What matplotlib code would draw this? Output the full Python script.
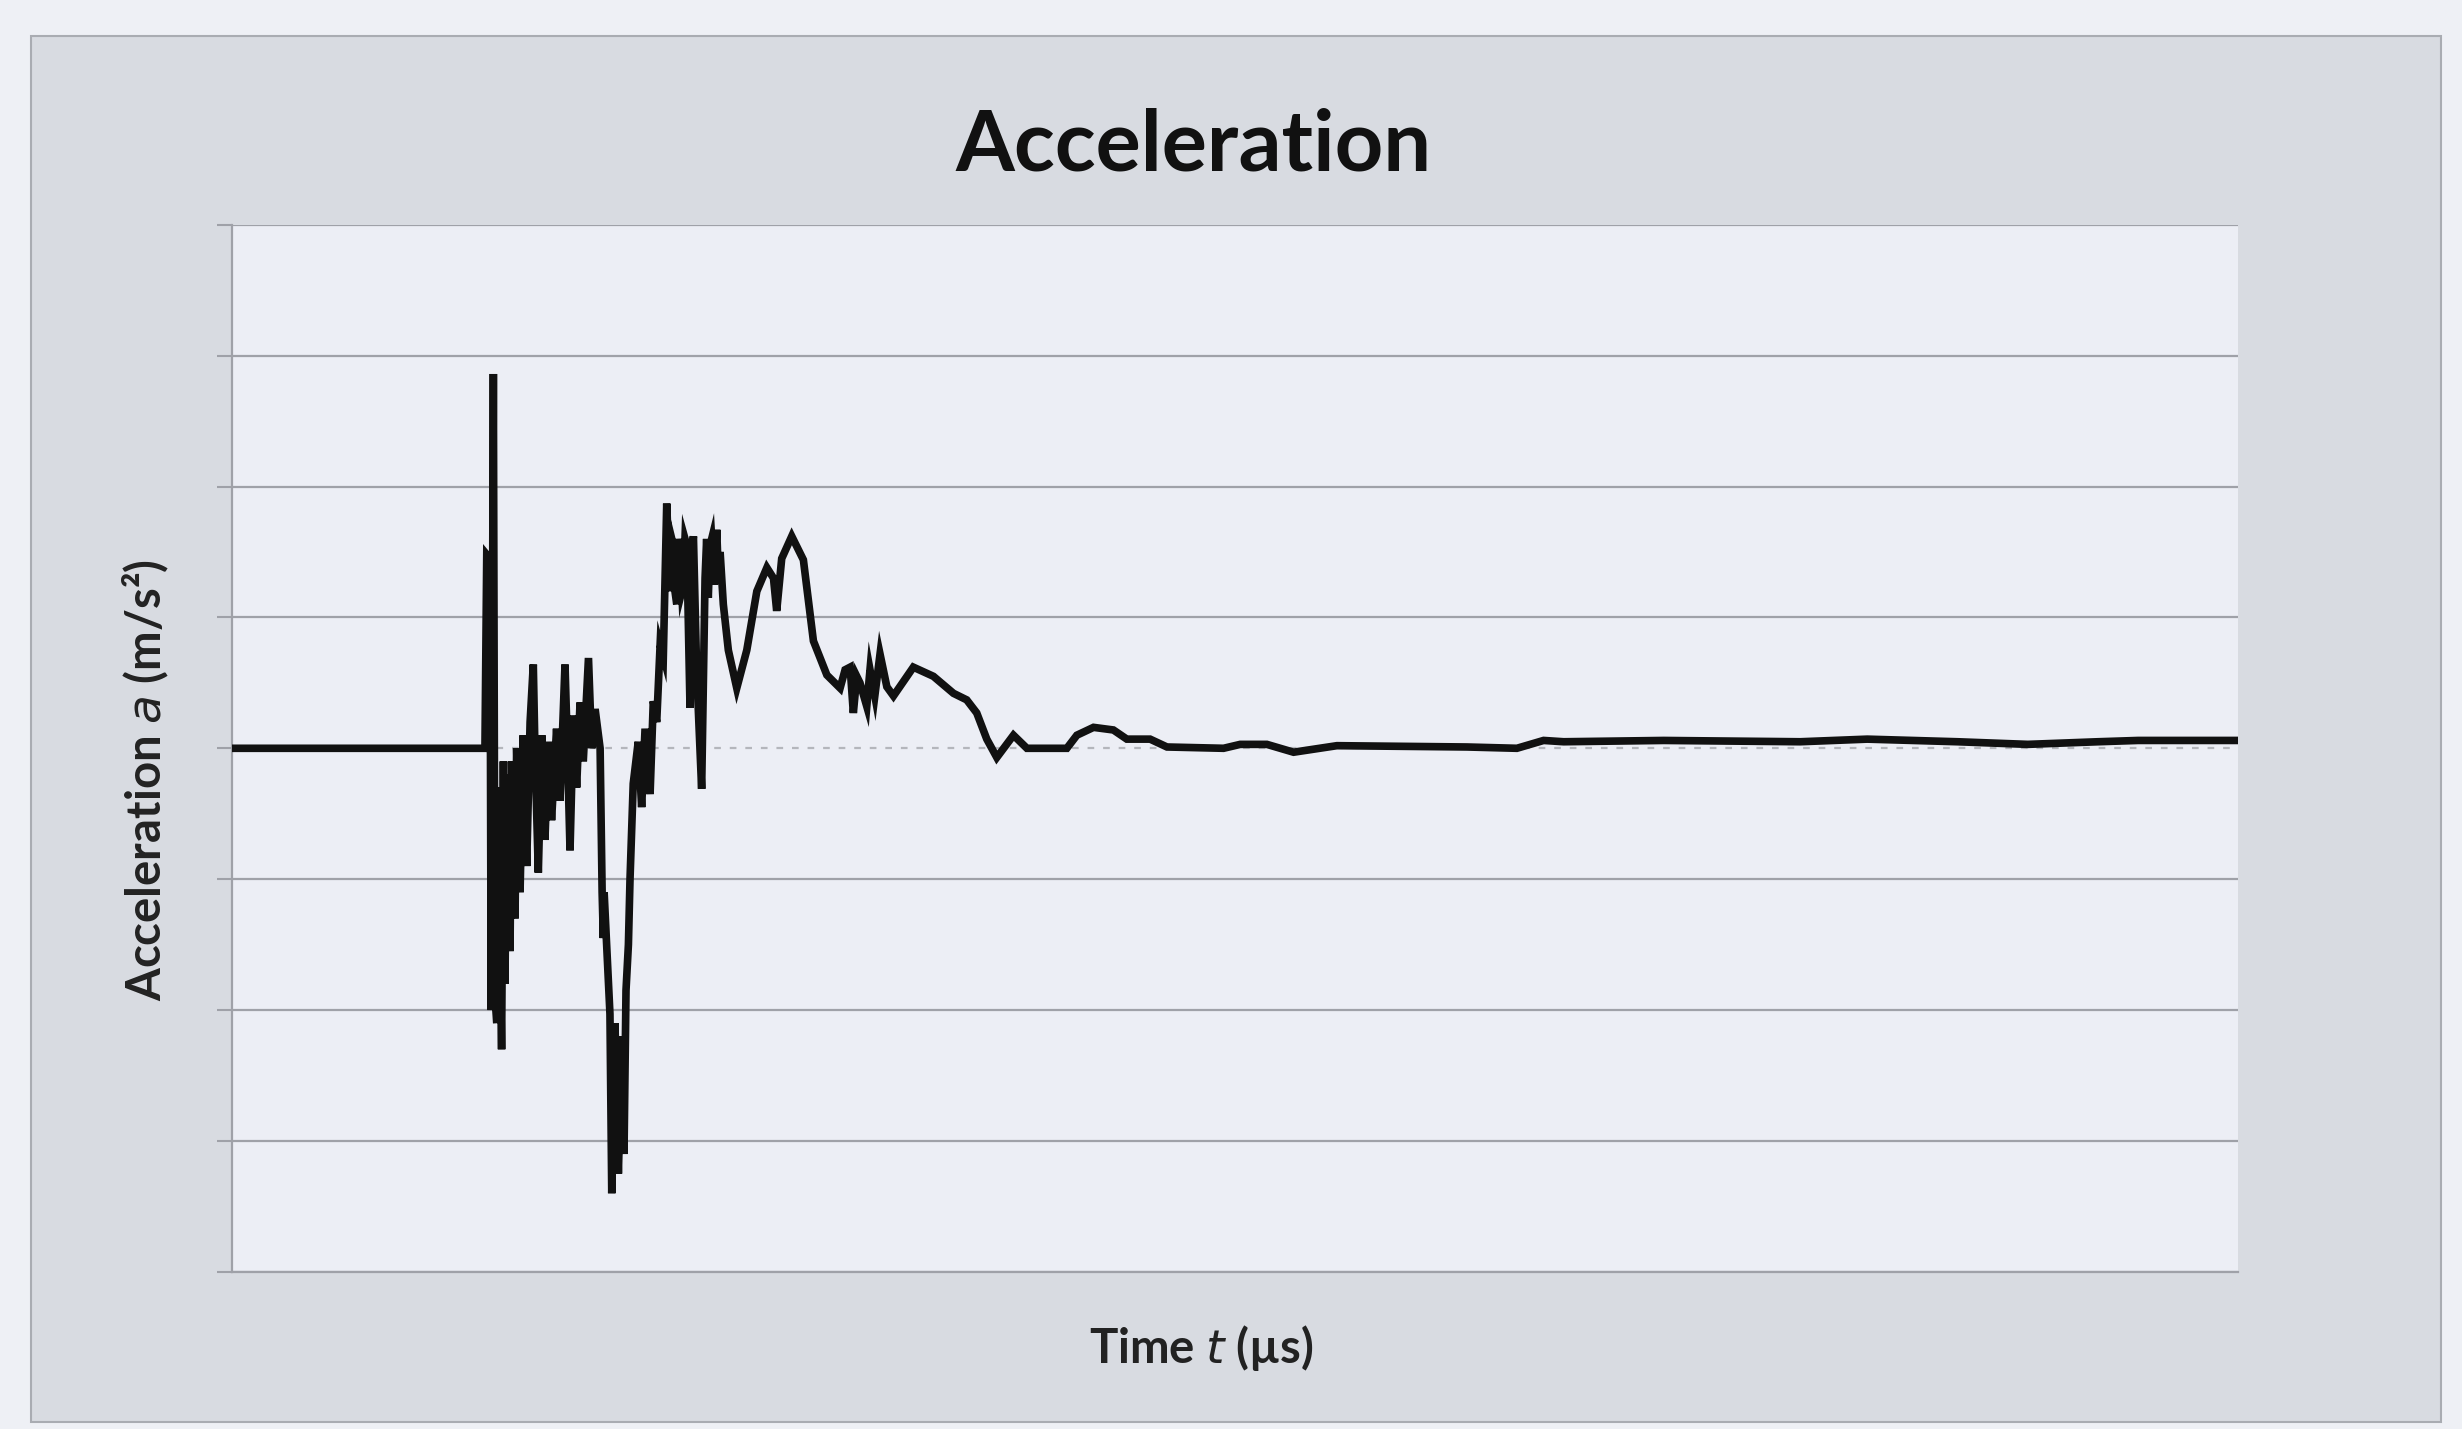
import matplotlib.pyplot as plt
from matplotlib.patches import Rectangle

# time samples (µs) and measured acceleration (m/s²)
time_us = [
    0, 125, 126.1, 127, 128.6, 129.2, 130.3, 131.1, 132, 132.6, 134.4, 135.3,
    136.1, 136.9, 138.6, 139.4, 141.1, 141.9, 143.6, 145.2, 146.9, 148.6,
    150.2, 151, 152.7, 154.4, 156, 157.7, 159.3, 161.8, 163.5, 166, 167.2,
    168.5, 170.2, 171.8, 173.5, 175.1, 177.7, 179.3, 181, 183.5, 184.5,
    185.1, 185.5, 188.4, 189.3, 190.9, 192.6, 194.3, 195.4, 196.4, 197.6,
    198.4, 200, 202.5, 204.2, 205.9, 208.4, 210, 211.7, 213.4, 215, 216.7,
    218.3, 219.2, 220, 220.8, 221.7, 222.5, 223.3, 224.2, 225, 225.8, 226.7,
    228.3, 229.2, 230, 231.6, 234.1, 235.8, 236.6, 237.4, 238.3, 239.1,
    240.4, 241.6, 242.5, 243.3, 244.9, 247.4, 251.6, 256.6, 261.6, 266.6,
    269.9, 271.5, 274, 279, 284.8, 288.1, 289.8, 296.5, 303.1, 305.6, 308.1,
    309.7, 311.4, 313, 316.4, 318, 320.4, 323, 326.4, 329.7, 339.6, 349.6,
    359.6, 366.2, 371.2, 376.2, 381.2, 389.5, 396.2, 416.1, 421.1, 429.4,
    439.3, 446, 457.6, 466, 494.2, 502.5, 515.8, 529.1, 550.7, 615.5, 640.4,
    653.7, 663.7, 713.6, 781.6, 815, 860, 895, 930, 950, 1000,
]
accel = [
    0, 0, 0, 1.48, 1.45, -2.0, 2.86, -1.9, -2.1, -0.3, -2.3, -0.1,
    -1.8, -0.2, -1.55, -0.1, -1.3, 0.0, -1.1, 0.1, -0.9, 0.2,
    0.64, 0.0, -0.95, 0.1, -0.7, 0.05, -0.55, 0.15, -0.4, 0.64, 0.0,
    -0.78, 0.25, -0.3, 0.35, -0.1, 0.69, 0.0, 0.3, 0.0, -1.1,
    -1.45, -1.1, -2.03, -3.4, -2.1, -3.25, -2.2, -3.1, -1.85, -1.5,
    -1.0, -0.27, 0.05, -0.45, 0.15, -0.35, 0.36, 0.2, 0.79, 0.7, 1.87,
    1.2, 1.6, 1.55, 1.2, 1.1, 1.6, 1.5, 1.2, 1.25, 1.6, 1.55,
    0.31, 1.5, 1.62, 0.6, -0.31, 1.3, 1.6, 1.15, 1.55, 1.6,
    1.25, 1.67, 1.3, 1.5, 1.1, 0.75, 0.46, 0.75, 1.2, 1.38,
    1.3, 1.05, 1.45, 1.62, 1.44, 1.03, 0.82, 0.56, 0.46, 0.6, 0.62,
    0.27, 0.55, 0.5, 0.32, 0.6, 0.4, 0.72, 0.47, 0.4, 0.62, 0.55,
    0.42, 0.37, 0.27, 0.07, -0.07, 0.1, 0.0, 0.0, 0.1, 0.16,
    0.14, 0.07, 0.07, 0.01, 0.0, 0.03, 0.03, -0.03, 0.02, 0.01, 0.0,
    0.06, 0.05, 0.06, 0.05, 0.07, 0.05, 0.03, 0.05, 0.06, 0.06,
]
grid_levels = [-4, -3, -2, -1, 0, 1, 2, 3, 4]

plt.rcParams['font.family'] = ['Lato', 'DejaVu Sans']

fig = plt.figure(figsize=(24.62, 14.29), dpi=100)
fig.patch.set_facecolor('#eef0f5')

# grey chart panel behind the plot
fig.patches.append(Rectangle((0.0126, 0.005), 0.979, 0.970, transform=fig.transFigure,
                             facecolor='#d8dbe1', edgecolor='#a9acb2', linewidth=1.5,
                             zorder=-1))

ax = fig.add_axes([0.0942, 0.110, 0.815, 0.7327])
ax.set_zorder(1)
ax.set_facecolor('#eceef5')

for lvl in grid_levels:
    if lvl == 0:
        ax.axhline(lvl, color='#b4b6bc', linewidth=1.6, linestyle=(0, (3, 4)), zorder=1)
    else:
        ax.axhline(lvl, color='#9fa1a8', linewidth=1.6, zorder=1)

ax.plot(time_us, accel, color='#111111', linewidth=5.5, solid_joinstyle='miter', zorder=3)

ax.set_xlim(0, 1000)
ax.set_ylim(-4, 4)
ax.set_yticks(grid_levels)
ax.set_yticklabels([])
ax.set_xticks([])
ax.tick_params(axis='y', direction='out', length=11, width=1.5, color='#9fa1a8')
for side in ['top', 'right']:
    ax.spines[side].set_visible(False)
for side in ['left', 'bottom']:
    ax.spines[side].set_color('#9fa1a8')
    ax.spines[side].set_linewidth(1.6)

fig.text(0.4846, 0.898, 'Acceleration', ha='center', va='center',
         fontsize=61, fontweight='bold', color='#111111')
fig.text(0.0593, 0.454, 'Acceleration $a$ (m/s²)', ha='center', va='center',
         rotation=90, fontsize=34, fontweight='bold', color='#222222')
fig.text(0.488, 0.057, 'Time $t$ (µs)', ha='center', va='center',
         fontsize=34, fontweight='bold', color='#222222')

fig.savefig('out.png', dpi=100, facecolor=fig.get_facecolor())
